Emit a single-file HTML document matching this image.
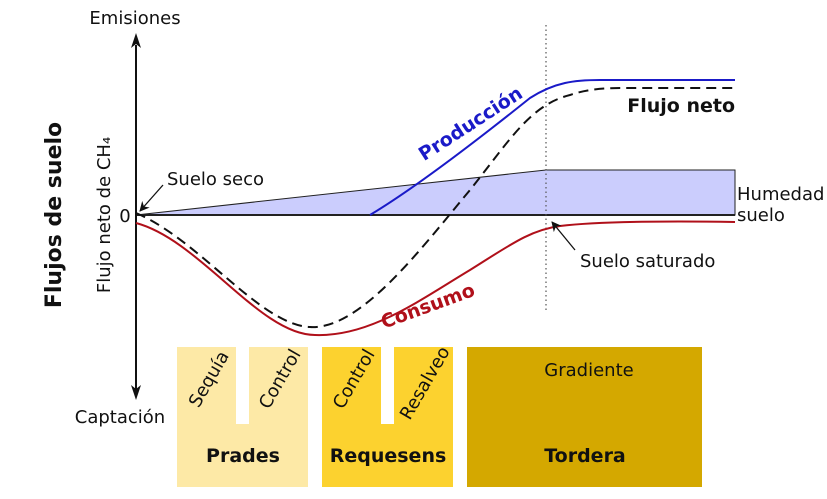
<!DOCTYPE html>
<html><head><meta charset="utf-8"><style>
body{margin:0;background:#fff;}
svg{display:block;}
svg text{font-family:"DejaVu Sans","Liberation Sans",sans-serif;font-size:18px;fill:#111;}
svg text.b{font-weight:bold;font-size:19px;}
svg text.big{font-weight:bold;font-size:22px;}
</style></head><body>
<svg width="827" height="499" viewBox="0 0 827 499" xmlns="http://www.w3.org/2000/svg">
<defs>
<marker id="ah" markerWidth="10" markerHeight="10" refX="9" refY="5" orient="auto" markerUnits="userSpaceOnUse"><path d="M0,0 L10,5 L0,10 L3,5 Z" fill="#111"/></marker>
</defs>
<path d="M177,347 H236 V424 H249 V347 H308 V487 H177 Z" fill="#fde9a6"/>
<path d="M322,347 H381 V424 H394 V347 H453 V487 H322 Z" fill="#fcd22f"/>
<rect x="467" y="347" width="235" height="140" fill="#d4a800"/>
<path d="M136,215 L546,170 L735,170 L735,215 Z" fill="#cbcdfd" stroke="#222" stroke-width="1"/>
<line x1="136" y1="215" x2="735" y2="215" stroke="#222" stroke-width="2"/>
<line x1="546" y1="25" x2="546" y2="312" stroke="#555" stroke-width="1.2" stroke-dasharray="1.5,3"/>
<line x1="136" y1="45" x2="136" y2="390" stroke="#111" stroke-width="2"/>
<path d="M136,33 L131,48 L136,44 L141,48 Z" fill="#111"/>
<path d="M136,400 L131,385 L136,389 L141,385 Z" fill="#111"/>
<path d="M370,215 C420,185 490,130 530,98 C555,82 575,80 600,80 L735,80" fill="none" stroke="#1a1ac8" stroke-width="2"/>
<path d="M136,213 C200,240 260,325 310,327 C360,330 420,250 470,190 C510,140 530,105 570,95 C590,88 610,88 630,88 L735,88" fill="none" stroke="#111" stroke-width="2" stroke-dasharray="10,6"/>
<path d="M136,223 C200,240 260,335 315,335 C370,337 420,300 470,270 C510,245 530,230 560,226 C600,221 680,221 735,222" fill="none" stroke="#b0101a" stroke-width="2"/>
<line x1="163" y1="185" x2="140" y2="211" stroke="#111" stroke-width="1.3" marker-end="url(#ah)"/>
<line x1="575" y1="250" x2="552" y2="222" stroke="#111" stroke-width="1.3" marker-end="url(#ah)"/>
<text x="135" y="24" text-anchor="middle">Emisiones</text>
<text x="120" y="423" text-anchor="middle">Captación</text>
<text x="125" y="222" text-anchor="middle">0</text>
<text x="167" y="185">Suelo seco</text>
<text x="737" y="200">Humedad</text>
<text x="737" y="221">suelo</text>
<text x="580" y="267">Suelo saturado</text>
<text x="589" y="376" text-anchor="middle">Gradiente</text>
<text transform="translate(110,215) rotate(-90)" text-anchor="middle">Flujo neto de CH₄</text>
<text transform="translate(214,382) rotate(-60)" text-anchor="middle">Sequía</text>
<text transform="translate(285,382) rotate(-60)" text-anchor="middle">Control</text>
<text transform="translate(359,382) rotate(-60)" text-anchor="middle">Control</text>
<text transform="translate(430,386) rotate(-60)" text-anchor="middle">Resalveo</text>
<text class="big" transform="translate(61,215) rotate(-90)" text-anchor="middle">Flujos de suelo</text>
<text class="b" x="735" y="112" text-anchor="end">Flujo neto</text>
<text class="b" x="243" y="462" text-anchor="middle">Prades</text>
<text class="b" x="388" y="462" text-anchor="middle">Requesens</text>
<text class="b" x="585" y="462" text-anchor="middle">Tordera</text>
<text class="b" transform="translate(474,129) rotate(-33)" text-anchor="middle" style="fill:#1a1ac8">Producción</text>
<text class="b" transform="translate(430,312) rotate(-20)" text-anchor="middle" style="fill:#b0101a">Consumo</text>
</svg>
</body></html>
